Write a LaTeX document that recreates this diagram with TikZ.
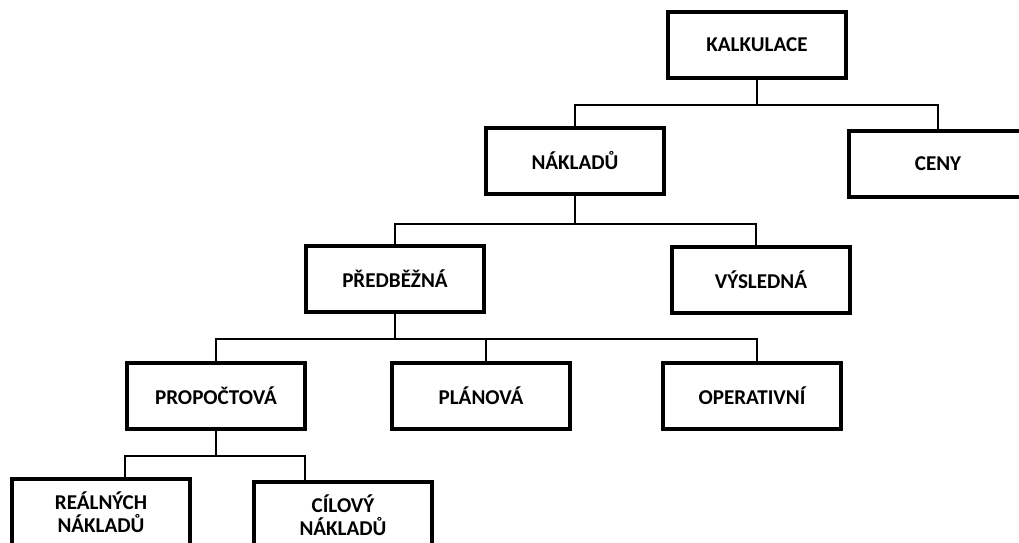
\documentclass[tikz,border=0pt]{standalone}
\usepackage{fontspec}
\setmainfont{Carlito}
\usetikzlibrary{calc}

\tikzstyle{box} = [
rectangle,
minimum width=4.45cm,
minimum height=1.65cm,
inner sep=0pt,
text centered,
align=center,
draw=black,
line width=2.2pt,
font=\fontsize{15}{16.6}\selectfont\bfseries
]
\tikzstyle{link} = [
line width=1.4pt
]

\begin{document}
\begin{tikzpicture}[
x=0.025cm,
y=-0.025cm
]
\useasboundingbox (0,0) rectangle (1019,543);

% Nodes
\node (kalk) [box] at (757,45) {KALKULACE};

\node (naklad) [box] at (575,161) {NÁKLADŮ};
\node (ceny) [box] at (938,164) {CENY};

\node (pred) [box] at (395,279) {PŘEDBĚŽNÁ};
\node (vysl) [box] at (761,280) {VÝSLEDNÁ};

\node (propoc) [box] at (216,396) {PROPOČTOVÁ};
\node (plan) [box] at (481,396) {PLÁNOVÁ};
\node (oper) [box] at (752,396) {OPERATIVNÍ};

\node (real) [box] at (101,512) {REÁLNÝCH\\NÁKLADŮ};
\node (cil) [box] at (343,515) {CÍLOVÝ\\NÁKLADŮ};

% Lines
\draw [link] (kalk.south) -- ++(0,25) coordinate (j1);
\draw [link] (j1) -| (naklad.north);
\draw [link] (j1) -| (ceny.north);

\draw [link] (naklad.south) -- ++(0,28) coordinate (j2);
\draw [link] (j2) -| (pred.north);
\draw [link] (j2) -| ($(vysl.north)+(-5,0)$);

\draw [link] (pred.south) -- ++(0,25) coordinate (j3);
\draw [link] (j3) -| (propoc.north);
\draw [link] (j3) -| ($(plan.north)+(5,0)$);
\draw [link] (j3) -| ($(oper.north)+(5,0)$);

\draw [link] (propoc.south) -- ++(0,25) coordinate (j4);
\draw [link] (j4) -| ($(real.north)+(24,0)$);
\draw [link] (j4) -| ($(cil.north)+(-38,0)$);

\end{tikzpicture}
\end{document}
